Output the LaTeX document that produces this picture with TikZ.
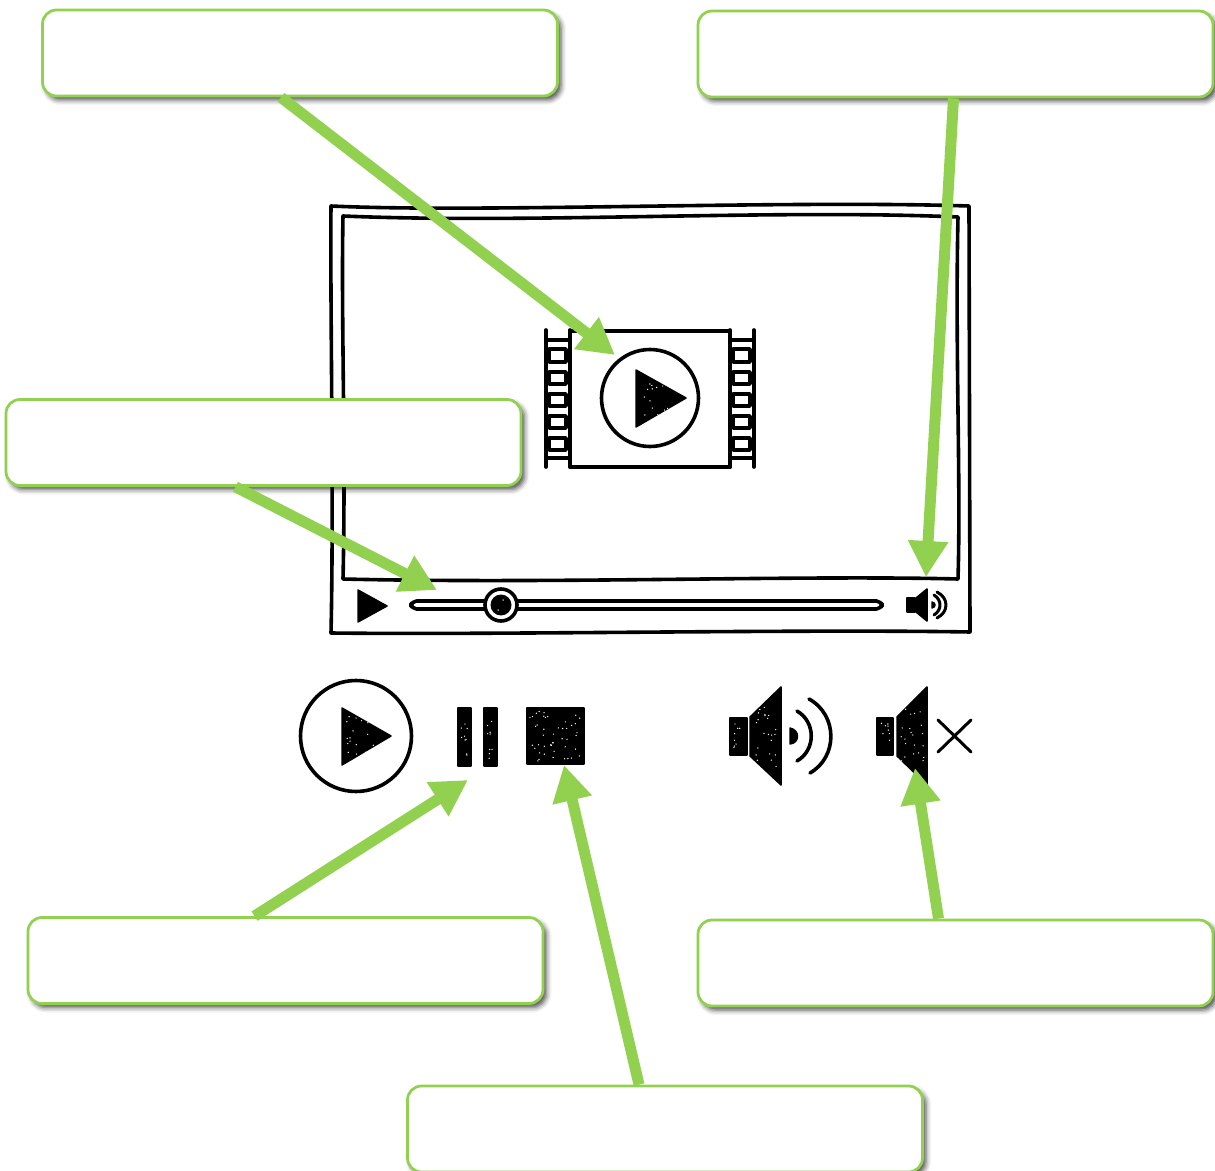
\documentclass[tikz,border=0pt]{standalone}
\usetikzlibrary{arrows.meta,calc,shadows.blur}
\definecolor{leaf}{HTML}{92D050}
\newcommand{\speckles}[5]{\foreach \k in {1,...,#5}{\fill[white] ({#1+rnd*#3},{#2+rnd*#4}) circle (0.14mm);}}
\begin{document}
\begin{tikzpicture}[x=0.2mm,y=-0.2mm,
	sketch/.style={draw=black,line width=0.72mm,line cap=round,line join=round},
	thin sketch/.style={draw=black,line width=0.6mm,line cap=round,line join=round},
	solid part/.style={fill=black,draw=black,line width=0.3mm,line join=round},
	callout/.style={draw=leaf,line width=0.55mm,fill=white,rounded corners=2.8mm,minimum width=103mm,minimum height=17.2mm,inner sep=0pt,blur shadow={shadow xshift=0.7mm,shadow yshift=-0.8mm,shadow blur radius=1mm,shadow opacity=70}},
	pointer/.style={draw=leaf,line width=2.2mm,-{Triangle[length=7.2mm,width=7.6mm,fill=leaf]}}]
	\useasboundingbox (0,0) rectangle (1215,1171);
	\pgfmathsetseed{7}

	\draw[sketch] (331,206) .. controls (480,213) and (780,200) .. (969,206) -- (970,632) .. controls (800,629) and (500,635) .. (331,633) .. controls (334,500) and (330,300) .. (331,206) -- cycle;
	\draw[sketch] (343,216) .. controls (530,224) and (770,209) .. (958,217) .. controls (955,350) and (961,480) .. (958,579) .. controls (800,575) and (550,584) .. (343,579) .. controls (346,450) and (341,320) .. (343,216) -- cycle;

	\draw[sketch] (570,331) -- (730,331) (570,467) -- (730,467);
	\foreach \sx in {546,570,730,754}
		\draw[sketch] (\sx,330) -- (\sx,467);
	\foreach \sx in {546,730}{
		\draw[sketch] (\sx,340) -- ({\sx+24},340) (\sx,458) -- ({\sx+24},458);
		\foreach \sy/\sh in {349/13,372/12,394/12,416/12,438/12}
			\draw[sketch] ({\sx+3},\sy) rectangle ({\sx+20},{\sy+\sh});
	}
	\draw[sketch] (650,398) circle (48.5);
	\fill[solid part] (636,370) -- (686,398) -- (636,427) -- cycle;
	\speckles{640}{380}{28}{36}{14}

	\fill[solid part] (358,590) -- (387,606) -- (358,622) -- cycle;
	\draw[sketch,rounded corners=1.1mm] (411,601) rectangle (882,609);
	\fill[white] (501,605) circle (16);
	\draw[sketch] (501,605) circle (16);
	\fill[black] (501,605) circle (10.5);
	\fill[white] (503,600) circle (0.15mm) (498,610) circle (0.15mm);

	\fill[solid part] (907,598) rectangle (915,612);
	\fill[solid part] (916,598) -- (927,589) -- (927,621) -- (916,612) -- cycle;
	\fill[solid part] (932,602) .. controls (936,603) and (936,607) .. (932,608) -- cycle;
	\draw[thin sketch] (934,595) .. controls (942,600) and (942,610) .. (934,615);
	\draw[thin sketch] (937,592) .. controls (949,598) and (949,612) .. (937,618);

	\draw[sketch] (356,736) circle (55.5);
	\fill[solid part] (342,708) -- (391,736) -- (342,765) -- cycle;
	\speckles{346}{716}{30}{40}{16}
	\fill[solid part] (458,708) rectangle (471,766);
	\fill[solid part] (484,708) rectangle (497,766);
	\speckles{461}{714}{7}{46}{9}
	\speckles{487}{714}{7}{46}{9}
	\fill[solid part] (527,708) rectangle (584,764);
	\speckles{530}{711}{51}{50}{46}

	\fill[solid part] (730,718) rectangle (747,755);
	\fill[solid part] (750,717) -- (781,687) -- (781,785) -- (750,756) -- cycle;
	\speckles{733}{722}{11}{29}{8}
	\speckles{754}{705}{24}{64}{22}
	\fill[solid part] (790,728) .. controls (800,730) and (800,743) .. (790,744) -- cycle;
	\draw[sketch] (797,711) .. controls (816,722) and (816,750) .. (797,761);
	\draw[sketch] (809,699) .. controls (838,715) and (838,757) .. (810,773);

	\fill[solid part] (877,718) rectangle (893,755);
	\fill[solid part] (897,717) -- (927,687) -- (927,785) -- (897,756) -- cycle;
	\speckles{880}{722}{10}{29}{8}
	\speckles{901}{705}{23}{64}{22}
	\draw[thin sketch] (938,720) -- (971,752) (971,720) -- (938,752);

	\node[callout] (b1) at (300,53) {};
	\node[callout] (b2) at (955.5,54) {};
	\node[callout] (b3) at (263.5,442.5) {};
	\node[callout] (b4) at (285.5,960.5) {};
	\node[callout] (b5) at (955.5,963) {};
	\node[callout] (b6) at (665,1129) {};

	\coordinate (play tip) at (615,355);
	\coordinate (volume tip) at (926,577);
	\coordinate (seek tip) at (437,590);
	\coordinate (pause tip) at (468,780);
	\coordinate (stop tip) at (564,765);
	\coordinate (mute tip) at (915,768);

	\draw[pointer] ($(b1.south)+(-19,0)$) -- (play tip);
	\draw[pointer] ($(b2.south)+(-2,0)$) -- (volume tip);
	\draw[pointer] ($(b3.south)+(-28,0)$) -- (seek tip);
	\draw[pointer] ($(b4.north)+(-31,0)$) -- (pause tip);
	\draw[pointer] ($(b6.north)+(-26,0)$) -- (stop tip);
	\draw[pointer] ($(b5.north)+(-17,0)$) -- (mute tip);
\end{tikzpicture}
\end{document}
